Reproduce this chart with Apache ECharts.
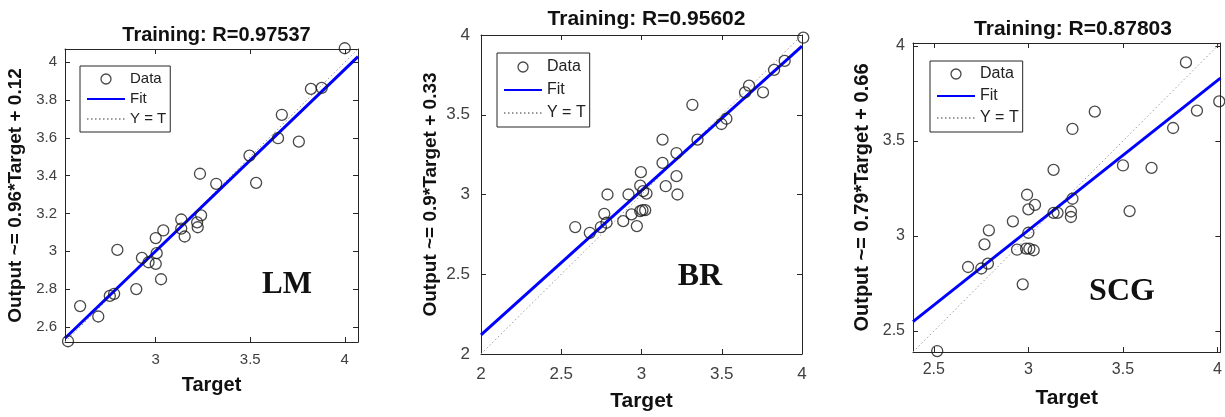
<!DOCTYPE html>
<html>
<head>
<meta charset="utf-8">
<title>Training regression</title>
<script src="https://cdn.jsdelivr.net/npm/echarts@6/dist/echarts.min.js"></script>
<style>
  html, body { margin: 0; padding: 0; background: #fff; }
  #chart { width: 1225px; height: 417px; }
</style>
</head>
<body>
<div id="chart"></div>
<script>
// ---- 数据：LM ----
const lmTarget = [2.536, 2.60, 2.696, 2.757, 2.78, 2.797, 2.897, 2.927, 2.962, 3.0, 3.005, 3.0, 3.028, 3.04,
  3.135, 3.135, 3.153, 3.219, 3.222, 3.24, 3.234, 3.32, 3.496, 3.531, 3.647, 3.667, 3.757, 3.821, 3.878, 4.0];
const lmOutput = [2.524, 2.71, 2.655, 2.764, 2.775, 3.007, 2.80, 2.965, 2.942, 2.933, 2.99, 3.07, 2.852, 3.11,
  3.168, 3.12, 3.078, 3.153, 3.127, 3.19, 3.41, 3.357, 3.506, 3.362, 3.598, 3.722, 3.58, 3.859, 3.864, 4.074];
const lmFit = [[2.52, 2.54], [4.07, 4.03]];
const lmRange = [2.52, 4.07];
const lmXTicks = [3, 3.5, 4];
const lmYTicks = [2.6, 2.8, 3, 3.2, 3.4, 3.6, 3.8, 4];

// ---- 数据：BR ----
const brTarget = [2.587, 2.678, 2.747, 2.768, 2.782, 2.788, 2.886, 2.919, 2.938, 2.971, 2.992, 3.006, 3.023,
  2.996, 2.992, 3.01, 3.031, 3.131, 3.131, 3.151, 3.218, 3.218, 3.224, 3.317, 3.349, 3.498, 3.529, 3.645,
  3.67, 3.757, 3.826, 3.892, 4.008];
const brOutput = [2.796, 2.76, 2.796, 2.879, 2.823, 3.0, 2.833, 3.0, 2.875, 2.802, 2.896, 2.902, 2.902,
  3.14, 3.056, 3.021, 3.006, 3.344, 3.198, 3.052, 3.26, 3.115, 3.0, 3.5625, 3.344, 3.442, 3.475, 3.64,
  3.683, 3.64, 3.781, 3.8375, 3.983];
const brFit = [[2, 2.12], [4, 3.93]];
const brRange = [2, 4];
const brXTicks = [2, 2.5, 3, 3.5, 4];
const brYTicks = [2, 2.5, 3, 3.5, 4];

// ---- 数据：SCG ----
const scgTarget = [2.518, 2.681, 2.751, 2.786, 2.768, 2.791, 2.918, 2.94, 2.97, 2.988, 3.005, 3.028, 3.0,
  2.993, 3.0, 3.035, 3.133, 3.133, 3.154, 3.225, 3.225, 3.233, 3.233, 3.351, 3.5, 3.535, 3.651, 3.765,
  3.833, 3.891, 4.009];
const scgOutput = [2.395, 2.837, 2.829, 2.855, 2.956, 3.03, 3.077, 2.928, 2.746, 2.934, 2.934, 2.925, 3.017,
  3.217, 3.14, 3.164, 3.348, 3.122, 3.122, 3.129, 3.1, 3.196, 3.563, 3.654, 3.371, 3.131, 3.358, 3.568,
  3.913, 3.659, 3.708];
const scgFit = [[2.39, 2.55], [4.015, 3.83]];
const scgRange = [2.39, 4.015];
const scgXTicks = [2.5, 3, 3.5, 4];
const scgYTicks = [2.5, 3, 3.5, 4];

// ---- 文本 ----
const titles = ['Training: R=0.97537', 'Training: R=0.95602', 'Training: R=0.87803'];
const yNames = ['Output ~= 0.96*Target + 0.12', 'Output ~= 0.9*Target + 0.33', 'Output ~= 0.79*Target + 0.66'];
const methods = ['LM', 'BR', 'SCG'];

// ---- 布局（每个子图的位置与字号）----
const panels = [
  { target: lmTarget, output: lmOutput, fit: lmFit, range: lmRange, xTicks: lmXTicks, yTicks: lmYTicks,
    grid: { left: 65, top: 49, width: 293, height: 293 },
    titleTop: 20, titleSize: 20, nameSize: 20, yNameSize: 19, xGap: 33, yGap: 40, labelSize: 15,
    xMargin: 10, yMargin: 8, legend: { left: 80, top: 66, gap: 4, font: 15, pad: [5, 4, 5, 6] },
    tag: [287, 285], tagSize: 31 },
  { target: brTarget, output: brOutput, fit: brFit, range: brRange, xTicks: brXTicks, yTicks: brYTicks,
    grid: { left: 481, top: 35, width: 321, height: 323 },
    titleTop: 4, titleSize: 21, nameSize: 21, yNameSize: 19, xGap: 37, yGap: 41, labelSize: 17,
    xMargin: 12, yMargin: 11, legend: { left: 497, top: 53, gap: 7, font: 16, pad: [6, 4, 6, 6] },
    tag: [700, 277], tagSize: 32 },
  { target: scgTarget, output: scgOutput, fit: scgFit, range: scgRange, xTicks: scgXTicks, yTicks: scgYTicks,
    grid: { left: 913, top: 43, width: 310, height: 309 },
    titleTop: 14, titleSize: 21, nameSize: 21, yNameSize: 20, xGap: 36, yGap: 41, labelSize: 16,
    xMargin: 10, yMargin: 8, legend: { left: 930, top: 61, gap: 6, font: 16, pad: [5, 4, 6, 6] },
    tag: [1122, 292], tagSize: 32 },
];

const BOX = '#262626';
const LABEL = '#404040';
const FONT = 'Liberation Sans, Arial, sans-serif';

const chart = echarts.init(document.getElementById('chart'));

const option = {
  animation: false,
  backgroundColor: '#fff',
  title: [], grid: [], xAxis: [], yAxis: [], series: [], legend: [], graphic: [],
};

function tickCfg(values) {
  return { show: true, inside: true, length: 5, customValues: values, lineStyle: { color: BOX, width: 1 } };
}

panels.forEach((p, i) => {
  option.grid.push({ ...p.grid, containLabel: false });

  option.title.push({
    text: titles[i],
    left: p.grid.left + p.grid.width / 2,
    top: p.titleTop,
    textAlign: 'center',
    textStyle: { fontFamily: FONT, fontSize: p.titleSize, fontWeight: 'bold', color: '#111' },
  });

  // 主坐标轴（底部/左侧）
  const base = { gridIndex: i, type: 'value', min: p.range[0], max: p.range[1], splitLine: { show: false },
    axisLine: { show: true, onZero: false, lineStyle: { color: BOX, width: 1 } } };
  option.xAxis.push({
    ...base, position: 'bottom',
    axisTick: tickCfg(p.xTicks),
    axisLabel: { customValues: p.xTicks, margin: p.xMargin, color: LABEL, fontSize: p.labelSize, fontFamily: FONT },
    name: 'Target', nameLocation: 'middle', nameGap: p.xGap,
    nameTextStyle: { fontFamily: FONT, fontSize: p.nameSize, fontWeight: 'bold', color: '#111' },
  });
  option.yAxis.push({
    ...base, position: 'left',
    axisTick: tickCfg(p.yTicks),
    axisLabel: { customValues: p.yTicks, margin: p.yMargin, color: LABEL, fontSize: p.labelSize, fontFamily: FONT },
    name: yNames[i], nameLocation: 'middle', nameGap: p.yGap, nameRotate: 90,
    nameTextStyle: { fontFamily: FONT, fontSize: p.yNameSize, fontWeight: 'bold', color: '#111' },
  });
  // 辅助坐标轴（顶部/右侧），只画框线与刻度
  option.xAxis.push({ ...base, position: 'top', axisTick: tickCfg(p.xTicks), axisLabel: { show: false } });
  option.yAxis.push({ ...base, position: 'right', axisTick: tickCfg(p.yTicks), axisLabel: { show: false } });

  const xi = i * 2, yi = i * 2;
  const points = p.target.map((t, k) => [t, p.output[k]]);

  option.series.push({
    name: 'Data', type: 'scatter', xAxisIndex: xi, yAxisIndex: yi, clip: false,
    data: points, symbol: 'circle', symbolSize: 11, z: 4,
    itemStyle: { color: 'rgba(0,0,0,0)', borderColor: '#1a1a1a', borderWidth: 1.3 },
  });
  option.series.push({
    name: 'Fit', type: 'line', xAxisIndex: xi, yAxisIndex: yi, data: p.fit,
    symbol: 'none', z: 3, lineStyle: { color: '#0000ff', width: 3 },
  });
  option.series.push({
    name: 'Y = T', type: 'line', xAxisIndex: xi, yAxisIndex: yi,
    data: [[p.range[0], p.range[0]], [p.range[1], p.range[1]]],
    symbol: 'none', z: 2, lineStyle: { color: '#9a9a9a', width: 1, type: [1.5, 2.5] },
  });

  // 图例：线条类只显示线，不显示中间的圆点
  option.legend.push({
    left: p.legend.left, top: p.legend.top, orient: 'vertical', selectedMode: false,
    itemWidth: 38, itemHeight: 10, itemGap: p.legend.gap, padding: p.legend.pad,
    borderColor: BOX, borderWidth: 1, backgroundColor: '#fff',
    textStyle: { fontFamily: FONT, fontSize: p.legend.font, color: '#222', lineHeight: 16 },
    data: [
      { name: 'Data', icon: 'circle', itemStyle: { color: 'rgba(0,0,0,0)', borderColor: '#1a1a1a', borderWidth: 1.3 } },
      { name: 'Fit', itemStyle: { opacity: 0 } },
      { name: 'Y = T', itemStyle: { opacity: 0 } },
    ],
  });

  option.graphic.push({
    type: 'text', x: p.tag[0], y: p.tag[1], z: 10,
    style: { text: methods[i], fontFamily: 'Liberation Serif, Times New Roman, serif', fontSize: p.tagSize,
      fontWeight: 'bold', fill: '#111', align: 'center', verticalAlign: 'middle' },
  });
});

chart.setOption(option);
</script>
</body>
</html>
